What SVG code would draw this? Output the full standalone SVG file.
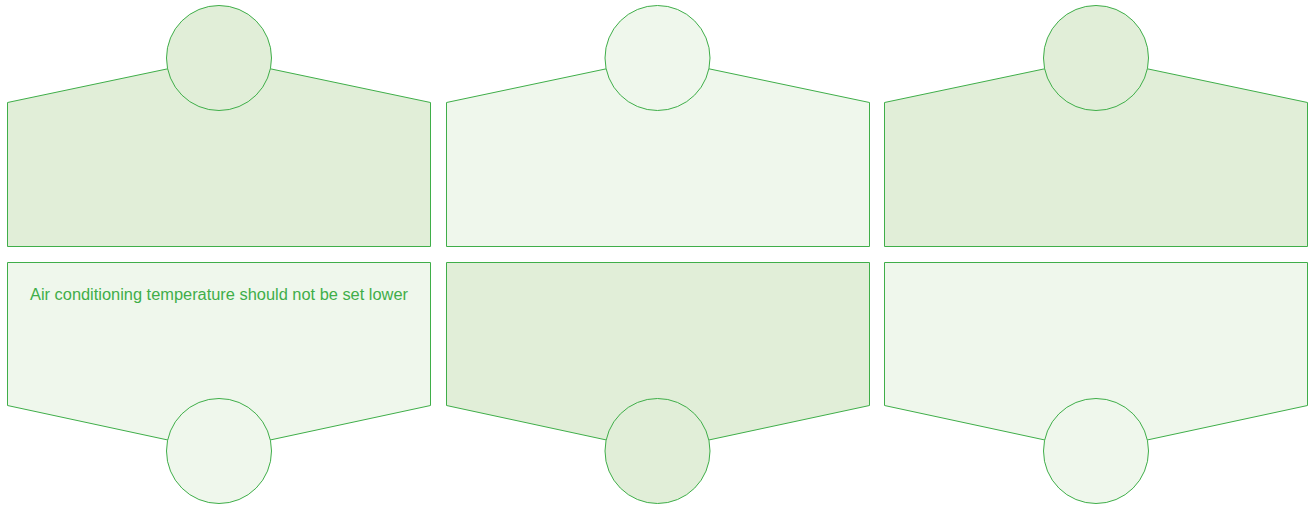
<svg xmlns="http://www.w3.org/2000/svg" width="1308" height="505" viewBox="0 0 1308 505">
<style>
.s{stroke:#3fae49;stroke-width:1}
.d{fill:#e1eed8}
.l{fill:#eff7ec}
.t{font-family:"Liberation Sans",Arial,sans-serif;font-size:16px;fill:#3fae49}
</style>
<rect width="1308" height="505" fill="#ffffff"/>
<g id="panel-top-1">
<polygon class="s d" points="7.5,102.5 219,58 430.5,102.5 430.5,246.5 7.5,246.5"/>
<circle class="s d" cx="219" cy="58" r="52.5"/>
</g>
<g id="panel-top-2">
<polygon class="s l" points="446.5,102.5 657.5,58 869.5,102.5 869.5,246.5 446.5,246.5"/>
<circle class="s l" cx="657.5" cy="58" r="52.5"/>
</g>
<g id="panel-top-3">
<polygon class="s d" points="884.5,102.5 1096,58 1307.5,102.5 1307.5,246.5 884.5,246.5"/>
<circle class="s d" cx="1096" cy="58" r="52.5"/>
</g>
<g id="panel-bottom-1">
<polygon class="s l" points="7.5,262.5 430.5,262.5 430.5,405.5 219,451 7.5,405.5"/>
<circle class="s l" cx="219" cy="451" r="52.5"/>
<text class="t" x="219" y="300" text-anchor="middle" textLength="378" lengthAdjust="spacingAndGlyphs">Air conditioning temperature should not be set lower</text>
</g>
<g id="panel-bottom-2">
<polygon class="s d" points="446.5,262.5 869.5,262.5 869.5,405.5 657.5,451 446.5,405.5"/>
<circle class="s d" cx="657.5" cy="451" r="52.5"/>
</g>
<g id="panel-bottom-3">
<polygon class="s l" points="884.5,262.5 1307.5,262.5 1307.5,405.5 1096,451 884.5,405.5"/>
<circle class="s l" cx="1096" cy="451" r="52.5"/>
</g>
<g id="connectors"></g>
</svg>
